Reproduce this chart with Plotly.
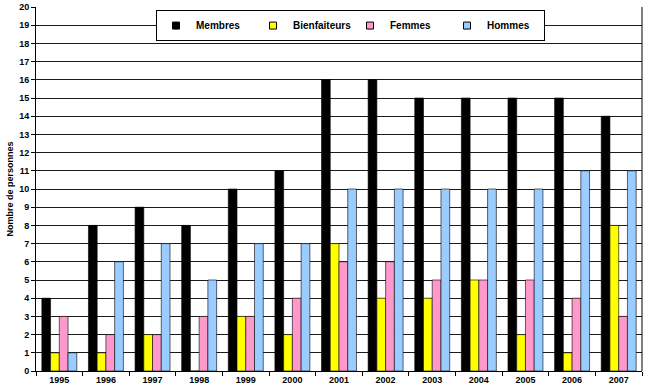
import plotly.graph_objects as go

years = ["1995", "1996", "1997", "1998", "1999", "2000", "2001", "2002", "2003", "2004", "2005", "2006", "2007"]
membres = [4, 8, 9, 8, 10, 11, 16, 16, 15, 15, 15, 15, 14]
bienfaiteurs = [1, 1, 2, 0, 3, 2, 7, 4, 4, 5, 2, 1, 8]
femmes = [3, 2, 2, 3, 3, 4, 6, 6, 5, 5, 5, 4, 3]
hommes = [1, 6, 7, 5, 7, 7, 10, 10, 10, 10, 10, 11, 11]

series = [
    ("Membres", membres, "#000000"),
    ("Bienfaiteurs", bienfaiteurs, "#FFFF00"),
    ("Femmes", femmes, "#FF99CC"),
    ("Hommes", hommes, "#99CCFF"),
]

FONT = "Liberation Sans, Arial"

fig = go.Figure()
for name, vals, color in series:
    fig.add_trace(go.Bar(
        x=years, y=vals, name=name, legendgroup=name, showlegend=False,
        marker=dict(color=color, line=dict(color="#000000", width=0.6)),
    ))
# legend proxies with small square symbols (no drawn points)
for name, vals, color in series:
    fig.add_trace(go.Scatter(
        x=[None], y=[None], name=name, legendgroup=name, mode="markers",
        marker=dict(symbol="square", size=7, color=color, line=dict(color="#000000", width=1)),
        showlegend=True,
    ))

fig.update_layout(
    width=645, height=391,
    margin=dict(l=36, r=3, t=7, b=20),
    paper_bgcolor="white", plot_bgcolor="white",
    barmode="group", bargap=0.25, bargroupgap=0,
    font=dict(family=FONT, size=9, color="#000000"),
    legend=dict(
        orientation="h", x=0.519, y=0.949, xanchor="center", yanchor="middle",
        bordercolor="#000000", borderwidth=1, bgcolor="white",
        font=dict(size=10, family=FONT, weight="bold"),
        entrywidth=52, itemwidth=30, itemsizing="trace",
        tracegroupgap=0,
    ),
    showlegend=True,
)
fig.update_xaxes(
    type="category", showline=True, linecolor="#000000", linewidth=1,
    ticks="outside", tickson="boundaries", ticklen=4, tickcolor="#000000",
    tickfont=dict(size=9, family=FONT, weight="bold"),
    mirror=False,
)
fig.update_yaxes(
    range=[0, 20], dtick=1, showgrid=True, gridcolor="#1a1a1a", gridwidth=1,
    showline=True, linecolor="#000000", linewidth=1,
    ticks="outside", ticklen=4, tickcolor="#000000",
    tickfont=dict(size=9, family=FONT, weight="bold"),
    title=dict(text="Nombre de personnes", font=dict(size=9, weight="bold"), standoff=4),
    zeroline=False,
)
fig.add_shape(type="line", xref="paper", yref="paper", x0=1, x1=1, y0=0, y1=1,
              line=dict(color="#000000", width=1))
fig.write_html("out.html", config={"displayModeBar": False},
               post_script="document.body.style.margin='0';")
